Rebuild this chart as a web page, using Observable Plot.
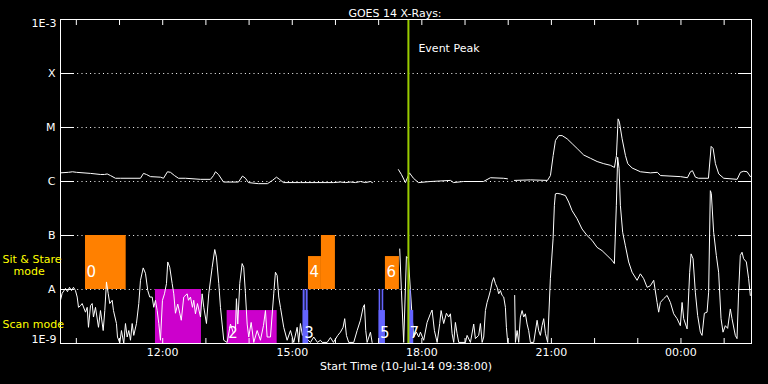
<!DOCTYPE html>
<html>
<head>
<meta charset="utf-8">
<script src="https://cdn.jsdelivr.net/npm/d3@7"></script>
<script src="https://cdn.jsdelivr.net/npm/@observablehq/plot@0.6"></script>
<style>
  html, body { margin: 0; padding: 0; background: #000; }
</style>
</head>
<body>
<div id="chart"></div>
<script>
// ---- Text ----
const chartTitle = "GOES 14 X-Rays:";
const startLabel = "Start Time (10-Jul-14 09:38:00)";
const eventLabel = "Event Peak";

// ---- Time axis (hours since 00:00 on 10-Jul; >24 = next day) ----
const timeDomain = [9.6333, 25.6333];          // 09:38 -> 01:38
const hourTicks = [10, 11, 12, 13, 14, 15, 16, 17, 18, 19, 20, 21, 22, 23, 24, 25];
const labelTicks = [12, 15, 18, 21, 24];
const labelTickText = ["12:00", "15:00", "18:00", "21:00", "00:00"];

// ---- Flux axis (W/m^2) ----
const fluxLevels = [1e-9, 1e-8, 1e-7, 1e-6, 1e-5, 1e-4, 1e-3];
const fluxLevelText = ["1E-9", "A", "B", "C", "M", "X", "1E-3"];
const classLevels = [1e-8, 1e-7, 1e-6, 1e-5, 1e-4];

// ---- Event peak time ----
const eventPeak = 17.689;

// ---- GOES long channel (1-8 A): [hour, log10 flux]; null = data gap ----
const longChannel = [
  [9.633,-5.84],[9.818,-5.83],[9.911,-5.82],[10.003,-5.83],[10.328,-5.85],[10.559,-5.87],[10.652,-5.87],
  [10.714,-5.86],[10.791,-5.89],[10.906,-5.94],[11.022,-5.94],[11.485,-5.94],[11.555,-5.85],[11.624,-5.87],
  [11.717,-5.91],[11.948,-5.92],[12.018,-5.94],[12.110,-5.82],[12.180,-5.83],[12.272,-5.89],[12.365,-5.94],
  [12.527,-5.94],[12.875,-5.96],[13.106,-5.96],[13.176,-5.89],[13.222,-5.82],[13.291,-5.87],[13.407,-6.01],
  [13.754,-6.01],[13.847,-5.90],[13.916,-5.94],[13.986,-6.02],[14.217,-6.04],[14.425,-6.04],[14.541,-5.98],
  [14.634,-5.92],[14.703,-5.96],[14.796,-6.02],[15.190,-6.02],[15.954,-6.02],[16.116,-6.01],[16.231,-6.02],
  [16.347,-6.01],[16.463,-6.02],[16.579,-6.00],[16.694,-6.02],[16.810,-6.00],[16.856,-6.02],[17.0,null],
  [17.458,-5.78],[17.527,-5.87],[17.620,-6.02],[17.713,-5.84],[17.805,-5.94],[17.921,-6.02],[18.200,-6.00],
  [18.663,-5.98],[18.732,-6.02],[18.964,-6.00],[19.427,-6.00],[19.589,-5.93],[19.889,-5.94],[19.982,-5.95],
  [20.05,null],
  [20.144,-5.98],[20.515,-5.97],[20.909,-5.98],[20.978,-5.89],[21.041,-5.52],[21.094,-5.24],[21.170,-5.15],
  [21.249,-5.15],[21.365,-5.21],[21.481,-5.30],[21.597,-5.39],[21.748,-5.51],[21.904,-5.57],[22.059,-5.63],
  [22.212,-5.67],[22.367,-5.70],[22.460,-5.74],[22.506,-5.52],[22.545,-4.84],[22.575,-4.90],[22.638,-5.21],
  [22.715,-5.52],[22.768,-5.67],[22.870,-5.75],[23.062,-5.82],[23.293,-5.84],[23.455,-5.83],[23.525,-5.89],
  [23.988,-5.91],[24.150,-5.93],[24.219,-5.82],[24.266,-5.80],[24.335,-5.92],[24.405,-5.94],[24.636,-5.94],
  [24.699,-5.35],[24.745,-5.39],[24.798,-5.67],[24.875,-5.86],[24.991,-5.94],[25.301,-5.96],[25.377,-5.83],
  [25.454,-5.81],[25.532,-5.82],[25.608,-5.91]
];

// ---- GOES short channel (0.5-4 A): [hour, log10 flux]; null = data gap ----
const shortChannel = [
  [9.633,-8.20],[9.672,-8.07],[9.749,-7.98],[9.795,-8.04],[9.841,-7.96],[9.888,-8.02],[9.934,-7.96],[9.980,-8.02],
  [10.020,-8.14],[10.050,-8.33],[10.096,-8.30],[10.135,-8.26],[10.212,-8.42],[10.251,-8.33],[10.281,-8.70],
  [10.328,-8.30],[10.367,-8.26],[10.397,-8.51],[10.443,-8.33],[10.513,-8.70],[10.559,-8.39],[10.622,-8.76],
  [10.659,-8.39],[10.698,-7.86],[10.737,-8.07],[10.774,-8.26],[10.830,-8.20],[10.860,-8.39],[10.929,-8.63],
  [10.953,-8.88],[11.006,-8.99],[11.045,-8.76],[11.098,-9.00],[11.138,-8.63],[11.177,-8.88],[11.214,-8.76],
  [11.254,-8.94],[11.293,-8.63],[11.330,-8.85],[11.392,-8.63],[11.446,-8.26],[11.485,-7.83],[11.548,-7.60],
  [11.601,-7.70],[11.654,-8.02],[11.700,-8.14],[11.756,-8.14],[11.793,-8.33],[11.832,-8.20],[11.872,-8.39],
  [11.909,-8.63],[11.948,-8.94],[11.994,-8.20],[12.041,-8.08],[12.087,-7.89],[12.117,-7.49],[12.163,-7.59],
  [12.219,-7.89],[12.256,-8.08],[12.295,-8.44],[12.348,-8.27],[12.395,-8.44],[12.430,-8.57],[12.487,-8.14],
  [12.566,-8.08],[12.596,-8.20],[12.643,-8.14],[12.689,-8.33],[12.719,-8.20],[12.758,-8.45],[12.805,-8.26],
  [12.875,-8.51],[12.913,-8.08],[12.951,-8.33],[13.013,-8.63],[13.066,-8.08],[13.145,-7.59],[13.205,-7.26],
  [13.244,-7.40],[13.298,-7.89],[13.337,-8.33],[13.376,-8.64],[13.413,-8.94],[13.492,-8.98],[13.569,-8.64],
  [13.638,-8.81],[13.684,-8.76],[13.707,-8.17],[13.738,-8.64],[13.784,-7.89],[13.839,-7.52],[13.876,-7.59],
  [13.916,-8.08],[13.955,-8.64],[13.992,-8.88],[14.048,-8.61],[14.108,-8.98],[14.187,-8.76],[14.263,-8.94],
  [14.333,-8.67],[14.379,-8.39],[14.418,-8.88],[14.495,-8.88],[14.571,-8.08],[14.610,-7.68],[14.650,-7.74],
  [14.687,-8.14],[14.726,-8.33],[14.802,-8.70],[14.881,-8.94],[14.958,-8.76],[15.034,-8.98],[15.113,-8.70],
  [15.150,-8.98],[15.189,-8.63],[15.235,-8.85],[15.282,-8.76],[15.328,-8.91],[15.421,-8.98],[15.497,-8.88],
  [15.583,-8.98],[15.652,-8.94],[15.692,-8.98],[15.807,-8.98],[15.884,-8.89],[15.953,-8.98],[16.053,-8.85],
  [16.115,-8.79],[16.177,-8.70],[16.214,-8.54],[16.254,-8.85],[16.307,-8.98],[16.423,-8.98],[16.502,-8.76],
  [16.578,-8.57],[16.641,-8.33],[16.671,-8.28],[16.701,-8.76],[16.733,-8.98],[16.810,-8.79],[16.849,-8.98],
  [17.0,null],
  [17.488,-7.25],[17.527,-8.02],[17.580,-8.98],[17.643,-7.39],[17.689,-7.43],[17.736,-8.02],[17.775,-8.51],
  [17.812,-8.88],[17.874,-8.79],[17.928,-8.88],[17.967,-8.79],[18.043,-8.94],[18.122,-8.61],[18.198,-8.45],
  [18.237,-8.38],[18.291,-8.76],[18.354,-8.98],[18.414,-8.63],[18.446,-8.39],[18.506,-8.63],[18.569,-8.44],
  [18.622,-8.51],[18.662,-8.45],[18.701,-8.82],[18.738,-8.98],[18.777,-8.61],[18.817,-8.82],[18.854,-8.98],
  [19.009,-8.98],[19.048,-8.85],[19.125,-8.98],[19.201,-8.64],[19.240,-8.91],[19.317,-8.85],[19.356,-8.63],
  [19.396,-8.98],[19.433,-8.88],[19.472,-8.39],[19.511,-8.24],[19.548,-8.14],[19.588,-8.02],[19.627,-7.86],
  [19.664,-7.78],[19.703,-7.89],[19.743,-7.96],[19.780,-8.08],[19.819,-8.02],[19.858,-8.11],[19.896,-8.14],
  [19.935,-8.33],[19.958,-8.70],[19.988,-8.98],
  [20.05,null],
  [20.150,-8.11],[20.167,-8.98],[20.206,-8.76],[20.243,-8.98],[20.282,-8.51],[20.322,-8.39],[20.359,-8.51],
  [20.398,-8.45],[20.437,-8.64],[20.474,-8.76],[20.514,-8.98],[20.590,-8.98],[20.669,-8.57],[20.706,-8.76],
  [20.745,-8.85],[20.784,-8.67],[20.822,-8.54],[20.861,-8.81],[20.900,-8.94],[20.914,-8.98],[20.976,-7.80],
  [21.039,-7.06],[21.069,-6.44],[21.092,-6.23],[21.132,-6.22],[21.208,-6.23],[21.324,-6.26],[21.400,-6.38],
  [21.479,-6.54],[21.595,-6.69],[21.710,-6.88],[21.826,-7.00],[21.942,-7.09],[22.057,-7.22],[22.173,-7.28],
  [22.289,-7.37],[22.405,-7.46],[22.458,-7.52],[22.504,-6.44],[22.534,-5.55],[22.567,-5.76],[22.597,-6.44],
  [22.650,-6.94],[22.713,-7.19],[22.789,-7.49],[22.868,-7.68],[22.984,-7.83],[23.060,-7.71],[23.137,-7.80],
  [23.216,-7.96],[23.292,-7.93],[23.369,-7.83],[23.447,-8.24],[23.484,-8.42],[23.523,-8.24],[23.600,-8.17],
  [23.679,-8.11],[23.755,-8.24],[23.832,-8.45],[23.910,-8.54],[23.986,-8.67],[24.026,-8.24],[24.063,-8.54],
  [24.142,-8.73],[24.202,-7.68],[24.234,-7.34],[24.280,-7.43],[24.333,-8.05],[24.386,-8.48],[24.449,-8.79],
  [24.488,-8.85],[24.542,-8.44],[24.604,-8.42],[24.641,-8.05],[24.680,-6.17],[24.703,-6.22],[24.757,-6.94],
  [24.819,-7.37],[24.872,-7.68],[24.928,-8.54],[24.974,-8.79],[25.027,-8.67],[25.081,-8.72],[25.143,-8.36],
  [25.182,-8.54],[25.258,-8.85],[25.298,-8.91],[25.335,-8.05],[25.374,-7.37],[25.414,-7.31],[25.451,-7.43],
  [25.514,-7.49],[25.567,-7.80],[25.606,-8.11]
];

// ---- Observation runs: [start hour, end hour, log10 top level] ----
const sitStareRuns = [[10.212, 11.154, -7.00], [15.375, 15.675, -7.39], [15.675, 15.999, -7.00], [17.157, 17.481, -7.39]];
const scanRuns = [[11.832, 12.897, -8.00], [13.492, 14.650, -8.39]];
const shortScanRuns = [
  [15.252, 15.381, -8.39], [15.252, 15.298, -8.00], [15.321, 15.367, -8.00],
  [17.011, 17.157, -8.39], [17.011, 17.048, -8.00], [17.081, 17.118, -8.00],
  [17.689, 17.812, -8.39], [17.689, 17.752, -8.00]
];
// run numbers: [label, start hour, mode]
const runLabels = [["0", 10.212, "sit"], ["2", 13.492, "scan"], ["3", 15.252, "scan"], ["4", 15.375, "sit"],
                   ["5", 17.011, "scan"], ["6", 17.157, "sit"], ["7", 17.689, "scan"]];
// mode captions: [text, log10 level, left offset]
const modeLabels = [["Sit & Stare", -7.44, -58], ["mode", -7.67, -47], ["Scan mode", -8.65, -58]];

const COLORS = {orange: "#ff8000", magenta: "#cc00cc", blue: "#6464ff", green: "#99cc00", yellow: "#ffff00"};
const lvl = (v) => (v == null ? NaN : 10 ** v);

const chart = Plot.plot({
  width: 768,
  height: 384,
  marginLeft: 60,
  marginRight: 17,
  marginTop: 19,
  marginBottom: 41,
  style: {background: "#000", color: "#fff", fontFamily: "DejaVu Sans", fontSize: "11px"},
  x: {domain: timeDomain, axis: null},
  y: {type: "log", domain: [1e-9, 1e-3], axis: null},
  marks: [
    Plot.ruleY(classLevels, {y: d => d, stroke: "#fff", strokeWidth: 1, strokeDasharray: "1,3.3"}),
    Plot.rect(scanRuns, {x1: d => d[0], x2: d => d[1], y1: 1e-9, y2: d => lvl(d[2]), fill: COLORS.magenta}),
    Plot.rect(sitStareRuns, {x1: d => d[0], x2: d => d[1], y1: 1e-8, y2: d => lvl(d[2]), fill: COLORS.orange}),
    Plot.line(longChannel, {x: d => d[0], y: d => lvl(d[1]), stroke: "#fff", strokeWidth: 1, clip: true}),
    Plot.line(shortChannel, {x: d => d[0], y: d => lvl(d[1]), stroke: "#fff", strokeWidth: 1, clip: true}),
    Plot.rect(shortScanRuns, {x1: d => d[0], x2: d => d[1], y1: 1e-9, y2: d => lvl(d[2]), fill: COLORS.blue}),
    Plot.text(runLabels.filter(d => d[2] === "sit"), {x: d => d[1], y: 1e-8, text: d => d[0], dx: 1, dy: -17, textAnchor: "start", fill: "#fff", fontSize: 15}),
    Plot.text(runLabels.filter(d => d[2] === "scan"), {x: d => d[1], y: 1e-9, text: d => d[0], dx: 1, dy: -10, textAnchor: "start", fill: "#fff", fontSize: 15}),
    Plot.ruleX([eventPeak], {x: d => d, stroke: COLORS.green, strokeWidth: 2}),
    Plot.text([eventLabel], {x: eventPeak, frameAnchor: "top", text: d => d, dx: 10, dy: 25, textAnchor: "start", fill: "#fff"}),
    Plot.frame({stroke: "#fff"}),
    // ticks (inward)
    Plot.axisY(fluxLevels, {anchor: "left", tickSize: -14, fill: "none", label: null, stroke: "#fff"}),
    Plot.axisY(fluxLevels, {anchor: "right", tickSize: -14, fill: "none", label: null, stroke: "#fff"}),
    Plot.axisX(hourTicks, {anchor: "bottom", tickSize: -5, fill: "none", label: null, stroke: "#fff"}),
    Plot.axisX(hourTicks, {anchor: "top", tickSize: -5, fill: "none", label: null, stroke: "#fff"}),
    // y labels
    Plot.text(fluxLevels.filter(d => d > 1e-9 && d < 1e-3), {y: d => d, text: d => fluxLevelText[fluxLevels.indexOf(d)], frameAnchor: "left", dx: -5, textAnchor: "end", fill: "#fff"}),
    Plot.text([1e-3], {y: d => d, text: () => fluxLevelText[6], frameAnchor: "left", dx: -4, dy: 4, textAnchor: "end", fill: "#fff"}),
    Plot.text([1e-9], {y: d => d, text: () => fluxLevelText[0], frameAnchor: "left", dx: -4, dy: -4, textAnchor: "end", fill: "#fff"}),
    // x labels
    Plot.text(labelTicks, {x: d => d, text: (d, i) => labelTickText[i], frameAnchor: "bottom", dy: 12, fill: "#fff"}),
    Plot.text([startLabel], {text: d => d, frameAnchor: "bottom", dy: 26, fill: "#fff"}),
    Plot.text([chartTitle], {text: d => d, frameAnchor: "top", dx: -11, dy: -10, fill: "#fff"}),
    // mode captions
    ...modeLabels.map(m => Plot.text([m], {y: d => lvl(d[1]), text: d => d[0], frameAnchor: "left", dx: m[2], textAnchor: "start", fill: COLORS.yellow}))
  ]
});
document.getElementById("chart").appendChild(chart);
</script>
</body>
</html>
